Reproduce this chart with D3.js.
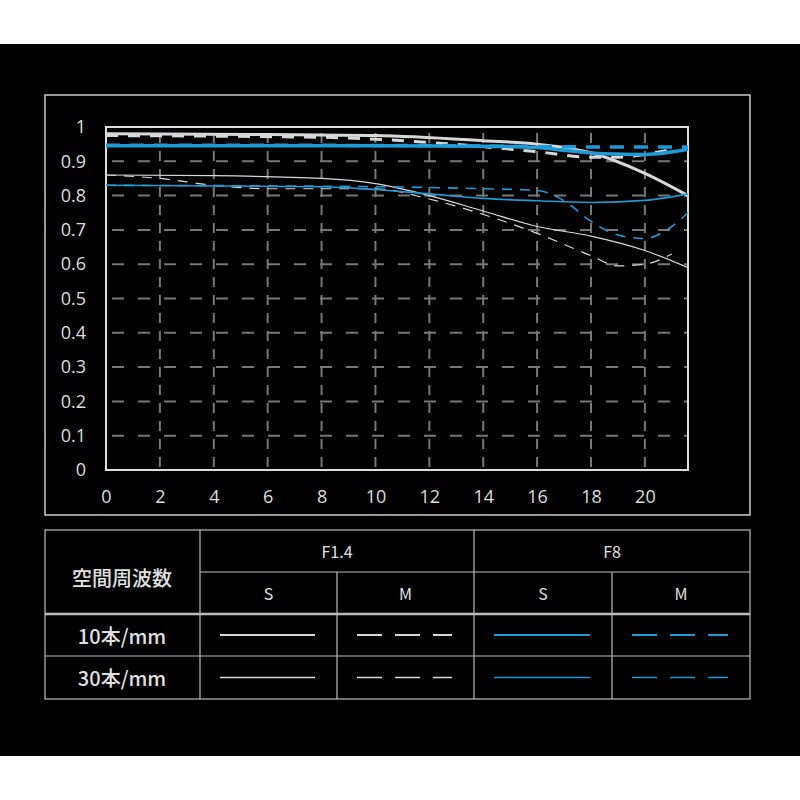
<!DOCTYPE html>
<style>
    body { margin: 0; background: #fff; }
    text { font-family: "Noto Sans CJK JP", "Noto Sans", sans-serif; }
</style>
<svg width="800" height="800"></svg>
<script src="https://d3js.org/d3.v7.min.js"></script>
<script>
    // MTF data: [spatial position mm, contrast]
    var f14S10 = [[0, 0.98], [6, 0.978], [10, 0.975], [14, 0.96], [16, 0.95], [18, 0.925], [20, 0.865], [21.6, 0.80]];
    var f14M10 = [[0, 0.975], [8, 0.97], [12, 0.955], [16, 0.928], [18, 0.912], [19, 0.912], [20, 0.92], [21, 0.935]];
    var f8S10 = [[0, 0.945], [10, 0.945], [14, 0.944], [16, 0.94], [17, 0.932], [18.5, 0.922], [20, 0.92], [21.6, 0.935]];
    var f8M10 = [[0, 0.947], [12, 0.946], [16, 0.943], [18, 0.942], [21.6, 0.942]];
    var f14S30 = [[0, 0.86], [4, 0.858], [8, 0.85], [10, 0.835], [12, 0.80], [14, 0.755], [16, 0.71], [18, 0.682], [20, 0.64], [21.6, 0.59]];
    var f14M30 = [[0, 0.86], [2, 0.85], [4, 0.83], [6, 0.82], [8, 0.82], [10, 0.82], [12, 0.79], [14, 0.745], [16, 0.69], [18, 0.625], [19, 0.595], [20, 0.6], [21, 0.63]];
    var f8S30 = [[0, 0.83], [8, 0.826], [10, 0.818], [12, 0.805], [14, 0.792], [16, 0.785], [18, 0.78], [20, 0.786], [21.6, 0.805]];
    var f8M30 = [[0, 0.83], [10, 0.826], [14, 0.82], [16, 0.815], [17, 0.785], [18, 0.725], [19, 0.685], [20, 0.675], [21, 0.71], [21.6, 0.75]];

    var xTicks = [0, 2, 4, 6, 8, 10, 12, 14, 16, 18, 20];
    var yTicks = [0, 0.1, 0.2, 0.3, 0.4, 0.5, 0.6, 0.7, 0.8, 0.9, 1];

    var colApertures = ["F1.4", "F8"];
    var colTypes = ["S", "M"];
    var rowLabels = ["10本/mm", "30本/mm"];
    var headerLabel = "空間周波数";

    var WHITE = "#d8d8d8", BLUE = "#1e9ad6";
    var series = [
        { data: f14S10, color: WHITE, w: 3, dash: null },
        { data: f14M10, color: WHITE, w: 3, dash: "12,10" },
        { data: f14S30, color: WHITE, w: 1.2, dash: null },
        { data: f14M30, color: WHITE, w: 1.2, dash: "10,8" },
        { data: f8S30, color: BLUE, w: 1.6, dash: null },
        { data: f8M30, color: BLUE, w: 1.6, dash: "10,8" },
        { data: f8M10, color: BLUE, w: 3.5, dash: "14,10" },
        { data: f8S10, color: BLUE, w: 3.5, dash: null }
    ];

    var svg = d3.select("svg");
    svg.append("rect").attr("x", 0).attr("y", 44).attr("width", 800).attr("height", 712).attr("fill", "#000");

    // outer frame
    svg.append("rect").attr("x", 45).attr("y", 95).attr("width", 705).attr("height", 420)
        .attr("fill", "none").attr("stroke", "#ccc").attr("stroke-width", 1.5);

    var x = d3.scaleLinear().domain([0, 21.6]).range([106, 688]);
    var y = d3.scaleLinear().domain([0, 1]).range([470, 127]);

    var g = svg.append("g");
    // grid
    g.selectAll(".vg").data(xTicks.slice(1)).enter().append("line")
        .attr("x1", d => x(d)).attr("x2", d => x(d)).attr("y1", y(1)).attr("y2", y(0))
        .attr("stroke", "#777").attr("stroke-width", 2).attr("stroke-dasharray", "10,8").attr("stroke-dashoffset", -6);
    g.selectAll(".hg").data(yTicks.slice(1, 10)).enter().append("line")
        .attr("x1", x(0)).attr("x2", x(21.6)).attr("y1", d => y(d)).attr("y2", d => y(d))
        .attr("stroke", "#777").attr("stroke-width", 2).attr("stroke-dasharray", "12,14").attr("stroke-dashoffset", -6);

    // frame of plot
    g.append("rect").attr("x", x(0)).attr("y", y(1)).attr("width", x(21.6) - x(0)).attr("height", y(0) - y(1))
        .attr("fill", "none").attr("stroke", "#ddd").attr("stroke-width", 2);

    var xAxis = g.append("g").attr("transform", "translate(0," + y(0) + ")")
        .call(d3.axisBottom(x).tickValues(xTicks).tickSize(0).tickPadding(20).tickFormat(d3.format("d")));
    var yAxis = g.append("g").attr("transform", "translate(" + x(0) + ",0)")
        .call(d3.axisLeft(y).tickValues(yTicks).tickSize(0).tickPadding(20).tickFormat(d => d === 0 || d === 1 ? d : d.toFixed(1)));
    [xAxis, yAxis].forEach(a => {
        a.select(".domain").remove();
        a.selectAll("text").attr("fill", "#ddd").attr("font-size", 18)
            .style("font-family", "'Open Sans', 'Noto Sans', sans-serif");
    });

    var line = d3.line().x(d => x(d[0])).y(d => y(d[1])).curve(d3.curveMonotoneX);
    g.selectAll(".s").data(series).enter().append("path")
        .attr("d", d => line(d.data)).attr("fill", "none")
        .attr("stroke", d => d.color).attr("stroke-width", d => d.w)
        .attr("stroke-dasharray", d => d.dash);

    // legend table
    var cols = [45, 200, 337, 474, 612, 750];
    var rows = [530, 572, 614, 656, 699];
    var t = svg.append("g").attr("stroke", "#bbb").attr("stroke-width", 1.2);
    t.append("rect").attr("x", 45).attr("y", 530).attr("width", 705).attr("height", 169).attr("fill", "none");
    t.append("line").attr("x1", 200).attr("x2", 750).attr("y1", 572).attr("y2", 572);
    t.append("line").attr("x1", 45).attr("x2", 750).attr("y1", 614).attr("y2", 614).attr("stroke-width", 2.5);
    t.append("line").attr("x1", 45).attr("x2", 750).attr("y1", 656).attr("y2", 656);
    [200, 474].forEach(c => t.append("line").attr("x1", c).attr("x2", c).attr("y1", 530).attr("y2", 699));
    [337, 612].forEach(c => t.append("line").attr("x1", c).attr("x2", c).attr("y1", 572).attr("y2", 699));

    function label(tx, cx, cy, size, weight) {
        svg.append("text").attr("x", cx).attr("y", cy).attr("text-anchor", "middle").attr("dominant-baseline", "central")
            .attr("fill", "#e0e0e0").attr("font-size", size).attr("font-weight", weight || "normal").text(tx);
    }
    label(headerLabel, 122, 577, 20, 500);
    colApertures.forEach((a, i) => label(a, (cols[1 + 2 * i] + cols[3 + 2 * i]) / 2, 551, 16));
    [0, 1, 2, 3].forEach(i => label(colTypes[i % 2], (cols[i + 1] + cols[i + 2]) / 2, 593, 16));
    rowLabels.forEach((r, i) => label(r, 122, (rows[2 + i] + rows[3 + i]) / 2, 20, 500));

    // legend samples in the same order as the table cells
    var legendOrder = [[series[0], series[1], series[7], series[6]], [series[2], series[3], series[4], series[5]]];
    legendOrder.forEach((row, ri) => row.forEach((s, ci) => {
        var cy = (rows[2 + ri] + rows[3 + ri]) / 2;
        svg.append("line").attr("x1", cols[ci + 1] + 20).attr("x2", cols[ci + 2] - 22)
            .attr("y1", cy).attr("y2", cy).attr("stroke", s.color)
            .attr("stroke-width", ri === 0 ? 2.2 : 1.4)
            .attr("stroke-dasharray", s.dash ? "25,13" : null);
    }));
</script>
